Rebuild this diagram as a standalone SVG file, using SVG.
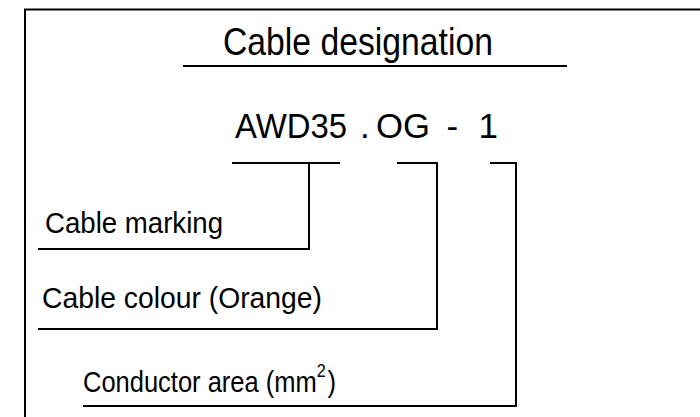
<svg xmlns="http://www.w3.org/2000/svg" width="700" height="417" viewBox="0 0 700 417">
<style>
.t{font-family:"Liberation Sans",Arial,sans-serif;fill:#000}
.l{stroke:#000;stroke-width:2;fill:none}
</style>
<rect width="700" height="417" fill="#fff"/>
<g id="frame">
<path class="l" d="M25,417 V9.5 H700"/>
</g>
<g id="title">
<text class="t" x="223" y="55" font-size="39" textLength="270" lengthAdjust="spacingAndGlyphs">Cable designation</text>
<path class="l" d="M183,66 H567"/>
</g>
<g id="designation">
<text class="t" x="235" y="138" font-size="35" textLength="112" lengthAdjust="spacingAndGlyphs">AWD35</text>
<text class="t" x="360" y="138" font-size="35">.</text>
<text class="t" x="376" y="138" font-size="35" textLength="54" lengthAdjust="spacingAndGlyphs">OG</text>
<text class="t" x="446.5" y="138" font-size="35">-</text>
<text class="t" x="478.5" y="138" font-size="35">1</text>
</g>
<g id="connectors">
<path class="l" d="M232,163 H340 M309,163 V249 H38"/>
<path class="l" d="M397,163 H437 V329 H38"/>
<path class="l" d="M490,163 H516 V406 H83"/>
</g>
<g id="cable-marking">
<text class="t" x="45" y="233" font-size="29" textLength="178" lengthAdjust="spacingAndGlyphs">Cable marking</text>
</g>
<g id="cable-colour">
<text class="t" x="42" y="308" font-size="29" textLength="280" lengthAdjust="spacingAndGlyphs">Cable colour (Orange)</text>
</g>
<g id="conductor-area">
<text class="t" transform="translate(83,392) scale(0.85,1)" x="0" y="0" font-size="30">Conductor area (mm<tspan font-size="19" dy="-15">2</tspan><tspan dx="2" dy="15">)</tspan></text>
</g>
</svg>
